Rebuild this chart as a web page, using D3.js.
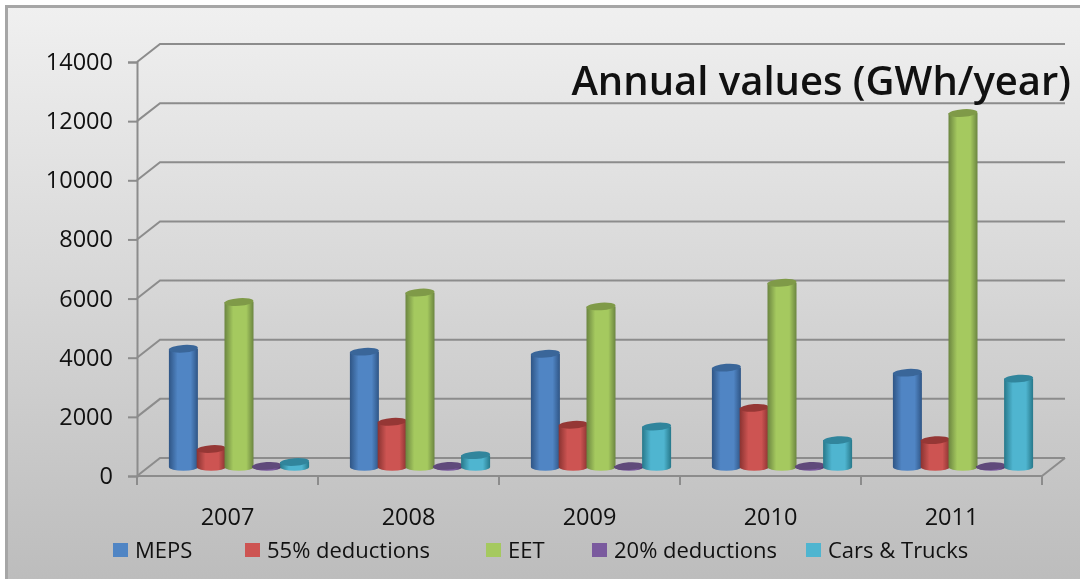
<!DOCTYPE html>
<html>
<head>
<meta charset="utf-8">
<script src="https://cdn.jsdelivr.net/npm/d3@7"></script>
<style>
html, body { margin: 0; padding: 0; background: #fff; }
text { font-family: "Open Sans", Lato, sans-serif; fill: #111; }
</style>
</head>
<body>
<div id="chart"></div>
<script>
const years = ["2007", "2008", "2009", "2010", "2011"];
const seriesNames = ["MEPS", "55% deductions", "EET", "20% deductions", "Cars & Trucks"];
const meps = [4000, 3900, 3830, 3360, 3190];
const deductions55 = [610, 1530, 1430, 2000, 910];
const eet = [5580, 5900, 5430, 6230, 11970];
const deductions20 = [40, 40, 30, 40, 30];
const carsTrucks = [170, 400, 1370, 910, 2990];
const yTicks = [0, 2000, 4000, 6000, 8000, 10000, 12000, 14000];
const seriesValues = [meps, deductions55, eet, deductions20, carsTrucks];

const colors = [
    { dark: "#2f5585", mid: "#5085c4", top: "#3a6699" },
    { dark: "#8a3331", mid: "#cd5452", top: "#953735" },
    { dark: "#6b8540", mid: "#a5c95f", top: "#7f9a48" },
    { dark: "#4a3266", mid: "#7a5a9e", top: "#604a7b" },
    { dark: "#27788a", mid: "#4fb5d0", top: "#31859c" }
];

const width = 1080, height = 579;
const depthX = 23, depthY = -18;
const rx = 14.5, ry = 3.8;

const svg = d3.select("#chart").append("svg")
    .attr("width", width)
    .attr("height", height)
    .style("display", "block")
    .style("filter", "blur(0.45px)");

const defs = svg.append("defs");

const bg = defs.append("linearGradient")
    .attr("id", "bg")
    .attr("x1", 0).attr("y1", 0).attr("x2", 0).attr("y2", 1);
bg.append("stop").attr("offset", "0%").attr("stop-color", "#f0f0f0");
bg.append("stop").attr("offset", "100%").attr("stop-color", "#bcbcbc");

colors.forEach((c, i) => {
    const g = defs.append("linearGradient").attr("id", "cyl" + i);
    g.append("stop").attr("offset", "0%").attr("stop-color", c.dark);
    g.append("stop").attr("offset", "30%").attr("stop-color", c.mid);
    g.append("stop").attr("offset", "75%").attr("stop-color", c.mid);
    g.append("stop").attr("offset", "100%").attr("stop-color", c.dark);
});

// ---- Scales ----
const x0 = d3.scaleBand().domain(years).range([137, 1042]);
const x1 = d3.scaleBand().domain(seriesNames).range([21, 160]);
const y = d3.scaleLinear().domain([0, 14000]).range([476, 62]);

// ---- Background ----
svg.append("rect")
    .attr("x", 6.5).attr("y", 6.5)
    .attr("width", width).attr("height", height)
    .attr("fill", "url(#bg)")
    .attr("stroke", "#a6a6a6")
    .attr("stroke-width", 3);

// ---- Walls, floor and gridlines ----
const grid = svg.append("g")
    .attr("fill", "none")
    .attr("stroke", "#8c8c8c")
    .attr("stroke-width", 2);

grid.selectAll("path.grid")
    .data(yTicks)
    .join("path")
    .attr("class", "grid")
    .attr("d", d => `M${x0.range()[0]},${y(d)}l${depthX},${depthY}H${x0.range()[1] + depthX}`);

grid.append("path")
    .attr("d", `M${x0.range()[0]},${y(0)}H${x0.range()[1]}l${depthX},${depthY}`);

// ---- Axes ----
const yAxis = d3.axisLeft(y).tickValues(yTicks).tickFormat(d3.format("d")).tickSize(9).tickPadding(15);
const yG = svg.append("g").attr("transform", "translate(137,0)").call(yAxis);
yG.select(".domain").attr("stroke", "#8c8c8c").attr("stroke-width", 2);
yG.selectAll("line").attr("stroke", "#8c8c8c").attr("stroke-width", 2);
yG.selectAll("text").style("font-size", "23.5px").attr("fill", "#111");

const xTickPos = years.map(d => x0(d)).concat(x0.range()[1]);
svg.append("g").selectAll("line")
    .data(xTickPos)
    .join("line")
    .attr("x1", d => d).attr("x2", d => d)
    .attr("y1", y(0)).attr("y2", y(0) + 9)
    .attr("stroke", "#8c8c8c")
    .attr("stroke-width", 2);

svg.append("g").selectAll("text")
    .data(years)
    .join("text")
    .attr("x", d => x0(d) + x0.bandwidth() / 2)
    .attr("y", 525)
    .attr("text-anchor", "middle")
    .style("font-size", "23.5px")
    .text(d => d);

// ---- Cylinders ----
const midX = depthX / 2, midY = depthY / 2;

seriesNames.forEach((name, s) => {
    const group = svg.append("g").attr("class", "series");
    const cyl = group.selectAll("g")
        .data(seriesValues[s].map((v, i) => ({ year: years[i], value: v })))
        .join("g")
        .attr("transform", d => `translate(${x0(d.year) + x1(name) + x1.bandwidth() / 2 + midX},0)`);

    cyl.append("path")
        .attr("fill", `url(#cyl${s})`)
        .attr("d", d => {
            const top = y(d.value) + midY, bottom = y(0) + midY;
            return `M${-rx},${top}V${bottom}A${rx},${ry} 0 0 0 ${rx},${bottom}V${top}Z`;
        });

    cyl.append("ellipse")
        .attr("rx", rx)
        .attr("ry", ry)
        .attr("fill", colors[s].top)
        .attr("transform", d => `translate(0,${y(d.value) + midY}) rotate(-4)`);
});

// ---- Title ----
svg.append("text")
    .attr("x", 1071)
    .attr("y", 95)
    .attr("text-anchor", "end")
    .style("font-size", "40px")
    .style("font-weight", 600)
    .attr("fill", "#000")
    .text("Annual values (GWh/year)");

// ---- Legend ----
const legendX = [113, 245, 486, 592, 806];
const legend = svg.append("g").selectAll("g")
    .data(seriesNames)
    .join("g")
    .attr("transform", (d, i) => `translate(${legendX[i]},543)`);

legend.append("rect")
    .attr("width", 15).attr("height", 14)
    .attr("fill", (d, i) => colors[i].mid);

legend.append("text")
    .attr("x", 22)
    .attr("y", 15)
    .style("font-size", "22px")
    .text(d => d);
</script>
</body>
</html>
